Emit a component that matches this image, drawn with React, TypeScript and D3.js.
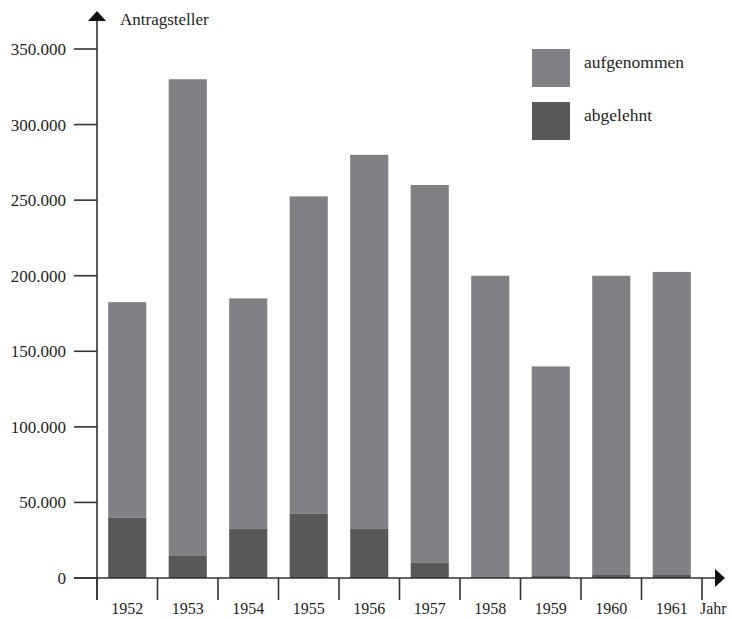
import React, { useEffect, useRef } from 'react';
import * as d3 from 'd3';

const years = ['1952', '1953', '1954', '1955', '1956', '1957', '1958', '1959', '1960', '1961'];
const totals = [182500, 330000, 185000, 252500, 280000, 260000, 200000, 140000, 200000, 202500];
const abgelehnt = [40000, 15000, 32500, 42500, 32500, 10000, 700, 1300, 2000, 2000];
const yTicks = [0, 50000, 100000, 150000, 200000, 250000, 300000, 350000];
const legendLabels = ['aufgenommen', 'abgelehnt'];

const colAuf = '#818185';
const colAbg = '#58585a';
const axisCol = '#333333';
const font = '"Liberation Serif", "DejaVu Serif", serif';

const App: React.FC = () => {
  const svgRef = useRef<SVGSVGElement>(null);

  useEffect(() => {
    if (!svgRef.current) return;
    const svg = d3.select(svgRef.current);
    svg.selectAll('*').remove();

    const x = d3.scaleBand<string>()
      .domain(years)
      .range([97, 702])
      .paddingInner(0.37)
      .paddingOuter(0.185);

    const y = d3.scaleLinear().domain([0, 350000]).range([578, 49]);

    const de = d3.formatLocale({ decimal: ',', thousands: '.', grouping: [3], currency: ['', ' €'] });
    const fmt = de.format(',');

    const rows = years.map((yr, i) => ({ yr, total: totals[i], abg: abgelehnt[i] }));

    // aufgenommen (upper part of stack)
    svg.append('g').selectAll('rect')
      .data(rows)
      .enter()
      .append('rect')
      .attr('x', d => x(d.yr)!)
      .attr('width', x.bandwidth())
      .attr('y', d => y(d.total))
      .attr('height', d => y(d.abg) - y(d.total))
      .attr('fill', colAuf);

    // abgelehnt
    svg.append('g').selectAll('rect')
      .data(rows)
      .enter()
      .append('rect')
      .attr('x', d => x(d.yr)!)
      .attr('width', x.bandwidth())
      .attr('y', d => y(d.abg))
      .attr('height', d => y(0) - y(d.abg))
      .attr('fill', colAbg);

    const axes = svg.append('g')
      .attr('stroke', axisCol)
      .attr('stroke-width', 1.6)
      .attr('fill', 'none');

    // y axis
    axes.append('line').attr('x1', 97).attr('x2', 97).attr('y1', 20).attr('y2', 600);
    axes.selectAll('.ytick')
      .data(yTicks)
      .enter()
      .append('line')
      .attr('x1', 74).attr('x2', 97)
      .attr('y1', d => y(d)).attr('y2', d => y(d));

    // x axis
    axes.append('line').attr('x1', 74).attr('x2', 716).attr('y1', y(0)).attr('y2', y(0));
    const step = x.step();
    const bounds = d3.range(years.length + 1).map(i => 97 + i * step);
    axes.selectAll('.xtick')
      .data(bounds)
      .enter()
      .append('line')
      .attr('x1', d => d).attr('x2', d => d)
      .attr('y1', y(0)).attr('y2', 600);

    // arrows
    svg.append('path').attr('d', 'M97,11 L88,21 L106,21 Z').attr('fill', '#111');
    svg.append('path').attr('d', `M725,${y(0)} L715,${y(0) - 9} L715,${y(0) + 9} Z`).attr('fill', '#111');

    const txt = svg.append('g')
      .attr('font-family', font)
      .attr('font-size', 17)
      .attr('fill', '#231f20');

    txt.selectAll('.ylab')
      .data(yTicks)
      .enter()
      .append('text')
      .attr('x', 66)
      .attr('y', d => y(d))
      .attr('dy', '0.35em')
      .attr('text-anchor', 'end')
      .text(d => fmt(d));

    txt.selectAll('.xlab')
      .data(years)
      .enter()
      .append('text')
      .attr('x', d => x(d)! + x.bandwidth() / 2)
      .attr('y', 614)
      .attr('font-size', 16)
      .attr('text-anchor', 'middle')
      .text(d => d);

    txt.append('text').attr('x', 700).attr('y', 614).attr('font-size', 16).text('Jahr');
    txt.append('text').attr('x', 120).attr('y', 25).text('Antragsteller');

    // legend
    const legend = svg.append('g');
    legendLabels.forEach((lab, i) => {
      legend.append('rect')
        .attr('x', 532).attr('y', 49 + i * 53)
        .attr('width', 38).attr('height', 38)
        .attr('fill', i === 0 ? colAuf : colAbg);
      legend.append('text')
        .attr('x', 584).attr('y', 68 + i * 53)
        .attr('font-family', font)
        .attr('font-size', 17.5)
        .attr('fill', '#231f20')
        .text(lab);
    });
  }, []);

  return (
    <svg
      ref={svgRef}
      width={732}
      height={619}
      style={{ position: 'absolute', left: 0, top: 0, background: '#fff' }}
    />
  );
};

export default App;
